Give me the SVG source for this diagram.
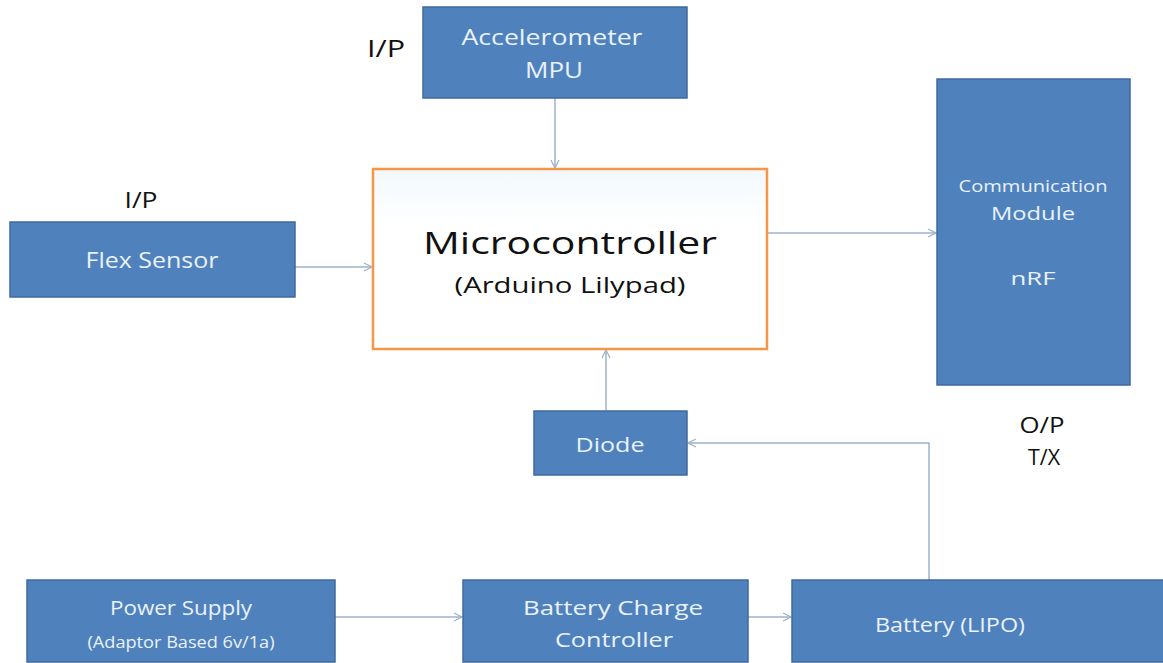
<svg xmlns="http://www.w3.org/2000/svg" width="1163" height="663" viewBox="0 0 1163 663">
<style>
.box{fill:#4F81BD;stroke:#3F6A9E;stroke-width:1.5}
.wt{fill:#EAF2FB;font-family:"Open Sans","Liberation Sans",sans-serif;text-anchor:middle}
.bt{fill:#111;font-family:"Open Sans","Liberation Sans",sans-serif;text-anchor:middle}
.conn{stroke:#9FB2CC;stroke-width:1.5;fill:none;marker-end:url(#arr)}
</style>
<defs>
<marker id="arr" markerWidth="10" markerHeight="10" refX="9" refY="5" orient="auto" markerUnits="userSpaceOnUse">
<path d="M1,1 L9,5 L1,9" fill="none" stroke="#9FB2CC" stroke-width="1.3"/>
</marker>
<linearGradient id="mg" x1="0" y1="0" x2="0" y2="1">
<stop offset="0" stop-color="#F2F8FC"/>
<stop offset="0.3" stop-color="#FFFFFF"/>
<stop offset="1" stop-color="#FFFFFF"/>
</linearGradient>
</defs>
<rect width="1163" height="663" fill="#FFFFFF"/>
<g id="connectors">
<line class="conn" x1="555" y1="98" x2="555" y2="168"/>
<line class="conn" x1="295" y1="267" x2="372" y2="267"/>
<line class="conn" x1="767" y1="233" x2="936" y2="233"/>
<line class="conn" x1="606" y1="411" x2="606" y2="350"/>
<polyline class="conn" points="929,580 929,443 688,443"/>
<line class="conn" x1="335" y1="617" x2="462" y2="617"/>
<line class="conn" x1="748" y1="617" x2="791" y2="617"/>
</g>
<g id="label-ip-top"><text class="bt" x="386" y="57" font-size="24" textLength="38" lengthAdjust="spacingAndGlyphs">I/P</text></g>
<g id="label-ip-left"><text class="bt" x="141" y="208" font-size="21" textLength="33" lengthAdjust="spacingAndGlyphs">I/P</text></g>
<g id="label-op">
<text class="bt" x="1042" y="433" font-size="22" textLength="45" lengthAdjust="spacingAndGlyphs">O/P</text>
<text class="bt" x="1044" y="465" font-size="22" textLength="32" lengthAdjust="spacingAndGlyphs">T/X</text>
</g>
<g id="accelerometer">
<rect class="box" x="423" y="7" width="264" height="91"/>
<text class="wt" x="552" y="45" font-size="21" textLength="181" lengthAdjust="spacingAndGlyphs">Accelerometer</text>
<text class="wt" x="554" y="78" font-size="21" textLength="58" lengthAdjust="spacingAndGlyphs">MPU</text>
</g>
<g id="flex-sensor">
<rect class="box" x="10" y="222" width="285" height="75"/>
<text class="wt" x="152" y="268" font-size="21" textLength="133" lengthAdjust="spacingAndGlyphs">Flex Sensor</text>
</g>
<g id="microcontroller">
<rect x="373" y="169" width="394" height="180" fill="url(#mg)" stroke="#F79646" stroke-width="2.5"/>
<text class="bt" x="570" y="254" font-size="31" textLength="294" lengthAdjust="spacingAndGlyphs">Microcontroller</text>
<text class="bt" x="570" y="293" font-size="21" textLength="231" lengthAdjust="spacingAndGlyphs">(Arduino Lilypad)</text>
</g>
<g id="communication">
<rect class="box" x="937" y="79" width="193" height="306"/>
<text class="wt" x="1033" y="192" font-size="16" textLength="149" lengthAdjust="spacingAndGlyphs">Communication</text>
<text class="wt" x="1033" y="220" font-size="18" textLength="84" lengthAdjust="spacingAndGlyphs">Module</text>
<text class="wt" x="1033" y="285" font-size="19" textLength="45" lengthAdjust="spacingAndGlyphs">nRF</text>
</g>
<g id="diode">
<rect class="box" x="534" y="411" width="153" height="64"/>
<text class="wt" x="610" y="452" font-size="20" textLength="69" lengthAdjust="spacingAndGlyphs">Diode</text>
</g>
<g id="power-supply">
<rect class="box" x="27" y="580" width="308" height="82"/>
<text class="wt" x="181" y="615" font-size="20" textLength="142" lengthAdjust="spacingAndGlyphs">Power Supply</text>
<text class="wt" x="181" y="648" font-size="17" textLength="187" lengthAdjust="spacingAndGlyphs">(Adaptor Based 6v/1a)</text>
</g>
<g id="charge-controller">
<rect class="box" x="463" y="580" width="285" height="82"/>
<text class="wt" x="613" y="615" font-size="20" textLength="180" lengthAdjust="spacingAndGlyphs">Battery Charge</text>
<text class="wt" x="614" y="647" font-size="20" textLength="118" lengthAdjust="spacingAndGlyphs">Controller</text>
</g>
<g id="battery">
<rect class="box" x="792" y="580" width="380" height="82"/>
<text class="wt" x="950" y="632" font-size="20" textLength="150" lengthAdjust="spacingAndGlyphs">Battery (LIPO)</text>
</g>
</svg>
